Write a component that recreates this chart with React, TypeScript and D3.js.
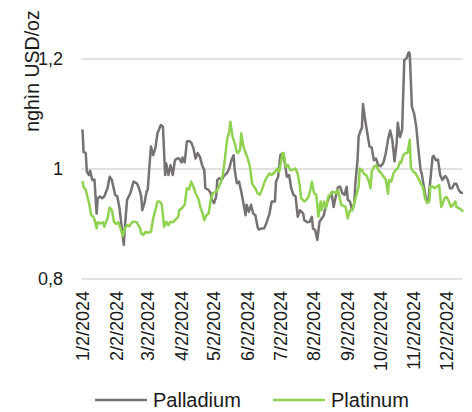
import * as d3 from "d3";

// values: [day of 2024 (1 = Jan 1), thousand USD/oz]
const palladium: [number, number][] = [
  [2, 1.072], [3, 1.031], [5, 1.029], [6, 0.995], [8, 0.989], [9, 0.997], [11, 0.98], [13, 0.981],
  [15, 0.919], [16, 0.947], [18, 0.95], [20, 0.947], [22, 0.95], [25, 0.965], [27, 0.986], [29, 0.98],
  [32, 0.953], [34, 0.95], [36, 0.929], [38, 0.895], [40, 0.862], [41, 0.895], [43, 0.944], [46, 0.956],
  [49, 0.977], [52, 0.974], [54, 0.965], [56, 0.95], [57, 0.925], [59, 0.938], [61, 0.959], [62, 0.962],
  [64, 1.016], [65, 1.041], [67, 1.025], [69, 1.038], [71, 1.065], [74, 1.08], [76, 1.077], [78, 0.989],
  [79, 1.01], [81, 0.989], [83, 1.007], [85, 0.989], [87, 1.016], [89, 1.019], [91, 1.019], [93, 1.012],
  [94, 1.021], [96, 1.012], [98, 1.05], [100, 1.051], [102, 1.048], [104, 1.038], [106, 1.019], [108, 1.029],
  [110, 1.022], [112, 1.007], [114, 0.998], [115, 0.965], [118, 0.962], [120, 0.956], [121, 0.944], [123, 0.938],
  [125, 0.95], [126, 0.98], [128, 0.983], [130, 0.98], [132, 0.987], [135, 0.993], [137, 1.001], [139, 1.016],
  [141, 1.025], [142, 0.998], [144, 0.974], [146, 0.977], [148, 0.959], [150, 0.938], [152, 0.916], [153, 0.935],
  [155, 0.922], [157, 0.935], [159, 0.919], [161, 0.916], [163, 0.895], [164, 0.89], [167, 0.892], [169, 0.892],
  [171, 0.901], [174, 0.919], [176, 0.941], [179, 0.941], [180, 0.977], [182, 0.986], [184, 1.025], [186, 1.029],
  [188, 1.012], [190, 0.986], [192, 0.989], [194, 0.965], [196, 0.953], [198, 0.95], [200, 0.913], [202, 0.925],
  [205, 0.919], [206, 0.907], [209, 0.903], [211, 0.904], [213, 0.913], [214, 0.892], [216, 0.889], [218, 0.871],
  [220, 0.904], [222, 0.91], [224, 0.916], [225, 0.925], [227, 0.939], [229, 0.95], [231, 0.957], [233, 0.931],
  [235, 0.95], [237, 0.967], [239, 0.968], [241, 0.956], [243, 0.953], [245, 0.968], [246, 0.944], [248, 0.941],
  [250, 0.925], [252, 0.938], [253, 0.974], [255, 1.016], [256, 1.059], [258, 1.071], [259, 1.074], [260, 1.118],
  [262, 1.089], [264, 1.065], [266, 1.041], [268, 1.039], [270, 1.016], [272, 1.019], [274, 1.007], [276, 1.005],
  [278, 1.009], [279, 1.013], [281, 1.029], [283, 1.053], [285, 1.07], [287, 1.053], [289, 1.014], [291, 1.047],
  [292, 1.084], [294, 1.058], [296, 1.071], [298, 1.198], [300, 1.201], [302, 1.212], [303, 1.21], [305, 1.113],
  [307, 1.101], [309, 1.077], [311, 1.035], [313, 0.998], [314, 0.992], [316, 0.968], [318, 0.944], [320, 0.941],
  [322, 0.98], [324, 1.022], [325, 1.024], [327, 1.016], [329, 1.017], [331, 0.989], [333, 0.98], [335, 0.986],
  [336, 0.987], [338, 0.98], [340, 0.965], [342, 0.965], [344, 0.973], [346, 0.973], [348, 0.962], [350, 0.957],
  [352, 0.957],
];

const platinum: [number, number][] = [
  [2, 0.978], [3, 0.967], [5, 0.962], [8, 0.938], [10, 0.916], [12, 0.913], [13, 0.908], [15, 0.892],
  [16, 0.903], [18, 0.901], [21, 0.903], [22, 0.895], [25, 0.91], [27, 0.93], [29, 0.925], [31, 0.904],
  [33, 0.9], [35, 0.903], [37, 0.892], [39, 0.878], [41, 0.892], [43, 0.898], [45, 0.896], [48, 0.904],
  [50, 0.904], [52, 0.903], [55, 0.892], [56, 0.883], [58, 0.88], [60, 0.886], [62, 0.884], [65, 0.886],
  [67, 0.91], [69, 0.925], [71, 0.941], [73, 0.941], [75, 0.935], [77, 0.895], [79, 0.904], [81, 0.898],
  [83, 0.904], [85, 0.903], [87, 0.907], [90, 0.913], [91, 0.925], [94, 0.93], [96, 0.935], [98, 0.965],
  [100, 0.963], [102, 0.977], [104, 0.968], [106, 0.956], [109, 0.944], [110, 0.933], [112, 0.922], [114, 0.907],
  [116, 0.916], [118, 0.919], [120, 0.944], [122, 0.956], [125, 0.959], [126, 0.962], [129, 0.974], [131, 0.989],
  [133, 1.019], [135, 1.053], [137, 1.068], [138, 1.086], [140, 1.059], [142, 1.047], [144, 1.031], [145, 1.029],
  [147, 1.035], [148, 1.065], [150, 1.041], [152, 1.029], [154, 1.019], [156, 1.004], [158, 0.974], [160, 0.967],
  [161, 0.965], [163, 0.956], [165, 0.953], [167, 0.962], [169, 0.974], [171, 0.983], [174, 0.992], [176, 0.989],
  [179, 0.995], [181, 1.001], [183, 0.995], [186, 1.029], [187, 1.029], [189, 1.004], [191, 1.007], [193, 0.998],
  [195, 0.998], [198, 1.001], [200, 0.991], [202, 0.968], [203, 0.947], [206, 0.941], [208, 0.944], [210, 0.95],
  [212, 0.965], [213, 0.977], [215, 0.956], [217, 0.953], [219, 0.913], [221, 0.941], [222, 0.925], [224, 0.941],
  [226, 0.929], [228, 0.95], [230, 0.953], [232, 0.959], [235, 0.956], [237, 0.962], [238, 0.953], [240, 0.935],
  [242, 0.933], [244, 0.931], [246, 0.91], [248, 0.925], [250, 0.925], [252, 0.938], [254, 0.953], [256, 0.968],
  [257, 1.001], [259, 0.998], [261, 0.991], [263, 0.989], [265, 0.98], [267, 0.965], [268, 0.995], [270, 1.004],
  [272, 1.007], [275, 0.995], [276, 0.995], [279, 0.986], [281, 0.98], [283, 0.955], [284, 0.98], [286, 0.977],
  [288, 0.992], [290, 0.998], [292, 1.001], [294, 1.013], [295, 1.011], [297, 1.025], [299, 1.029], [301, 1.029],
  [303, 1.053], [304, 1.004], [306, 0.995], [308, 0.993], [310, 0.986], [311, 0.983], [313, 0.974], [315, 0.968],
  [317, 0.947], [319, 0.938], [321, 0.941], [322, 0.968], [324, 0.968], [326, 0.965], [328, 0.968], [330, 0.971],
  [332, 0.931], [333, 0.935], [335, 0.947], [337, 0.949], [339, 0.941], [341, 0.931], [343, 0.935], [345, 0.941],
  [346, 0.931], [348, 0.929], [351, 0.925], [352, 0.922],
];

const xTickLabels = [
  "1/2/2024", "2/2/2024", "3/2/2024", "4/2/2024", "5/2/2024", "6/2/2024",
  "7/2/2024", "8/2/2024", "9/2/2024", "10/2/2024", "11/2/2024", "12/2/2024",
];
const yTicks = [0.8, 1, 1.2];
const yTitle = "nghìn USD/oz";
const seriesNames = ["Palladium", "Platinum"];
const seriesColors = ["#767272", "#8fd24f"];

const FONT = "'Liberation Sans', Arial, sans-serif";
const W = 472;
const H = 412;

const parseTick = d3.timeParse("%m/%d/%Y");
const dayToDate = (d: number) => new Date(2024, 0, d);

export default function App() {
  const x = d3.scaleTime().domain([dayToDate(2), dayToDate(352)]).range([82.5, 463]);
  const y = d3.scaleLinear().domain([0.8, 1.2]).range([279, 59]);
  const line = d3
    .line<[number, number]>()
    .x((d) => x(dayToDate(d[0])))
    .y((d) => y(d[1]));
  const fmt = (v: number) => String(v).replace(".", ",");
  const series = [palladium, platinum];

  return (
    <div style={{ position: "absolute", left: 0, top: 0 }}>
      <svg width={W} height={H} style={{ display: "block", background: "#fff" }} fontFamily={FONT}>
        {yTicks.map((t) => (
          <g key={t}>
            <line x1={81} x2={463} y1={y(t)} y2={y(t)} stroke="#d9d9d9" strokeWidth={1.3} />
            <text x={63} y={y(t)} dy="0.35em" textAnchor="end" fontSize={18} fill="#1a1a1a">
              {fmt(t)}
            </text>
          </g>
        ))}
        <text
          transform={`translate(38.5,71) rotate(-90)`}
          textAnchor="middle"
          fontSize={19.5}
          fill="#1a1a1a"
        >
          {yTitle}
        </text>
        {xTickLabels.map((lbl) => {
          const d = parseTick(lbl)!;
          return (
            <text
              key={lbl}
              transform={`translate(${x(d)},291) rotate(-90)`}
              dy="0.35em"
              textAnchor="end"
              fontSize={18}
              fill="#1a1a1a"
            >
              {lbl}
            </text>
          );
        })}
        {series.map((s, i) => (
          <path
            key={seriesNames[i]}
            d={line(s) ?? ""}
            fill="none"
            stroke={seriesColors[i]}
            strokeWidth={2.5}
            strokeLinejoin="round"
          />
        ))}
        {seriesNames.map((n, i) => {
          const x0 = i === 0 ? 95 : 273;
          return (
            <g key={n}>
              <line x1={x0} x2={x0 + 52} y1={400} y2={400} stroke={seriesColors[i]} strokeWidth={2.5} />
              <text x={x0 + 58} y={407} fontSize={20} fill="#1a1a1a">
                {n}
              </text>
            </g>
          );
        })}
      </svg>
    </div>
  );
}
